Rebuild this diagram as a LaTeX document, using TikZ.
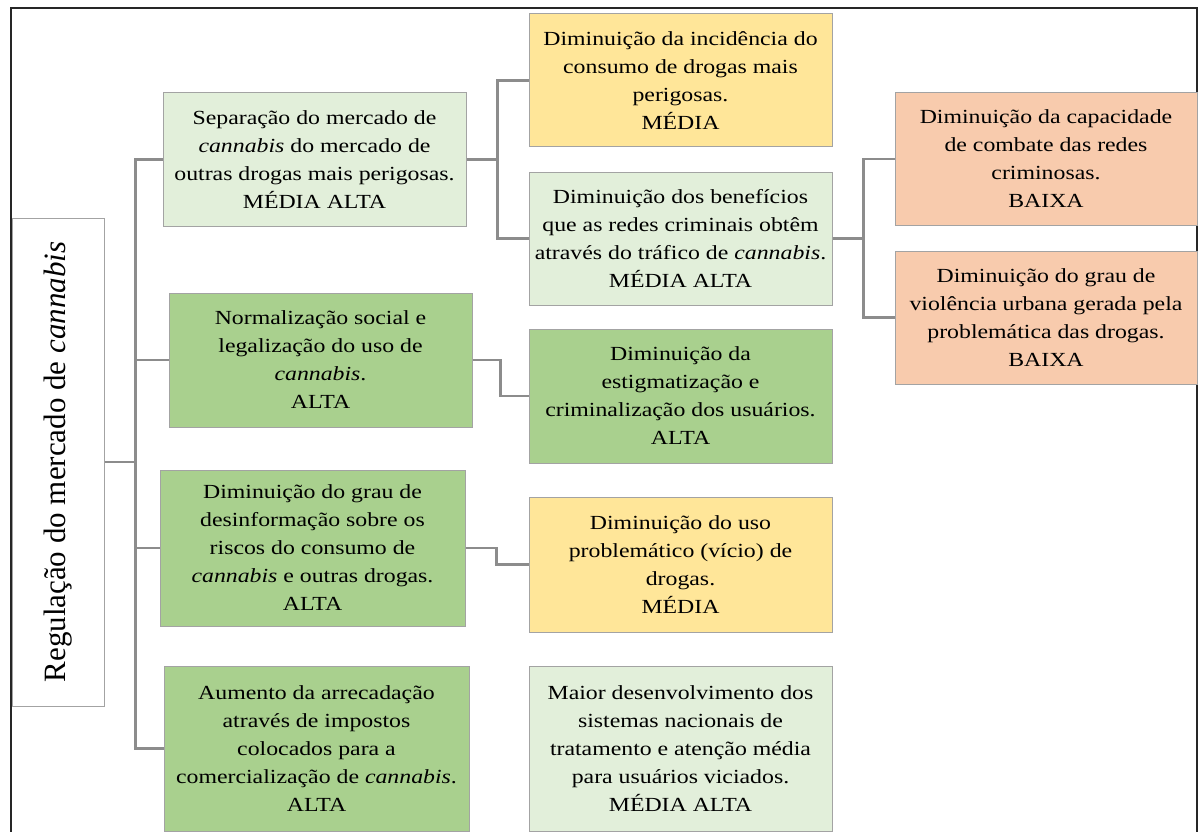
\documentclass[tikz,border=0pt]{standalone}
\usepackage{fontspec}
\usepackage{graphicx}
\setmainfont{Liberation Serif}
\newfontfamily\boxfont{Liberation Serif}[FakeStretch=1.19]
\definecolor{verdec}{HTML}{E2EFDA}
\definecolor{verdee}{HTML}{A9D08E}
\definecolor{amarelo}{HTML}{FFE699}
\definecolor{laranja}{HTML}{F8CBAD}
\definecolor{cinza}{HTML}{8C8C8C}
\begin{document}
\begin{tikzpicture}[
        x=1pt,
        y=-1pt,
        font=\boxfont\fontsize{20}{28}\selectfont
    ]
    \tikzset{
        mybox/.style = {rectangle, draw=cinza!80, line width=1pt, align=center,
                        inner sep=0pt, minimum width=303, minimum height=133},
        boxlg/.style = {mybox, fill=verdec},
        boxdg/.style = {mybox, fill=verdee},
        boxye/.style = {mybox, fill=amarelo},
        boxor/.style = {mybox, fill=laranja, minimum width=302},
        myedge/.style = {draw=cinza, line width=2.2pt},
    }
        \useasboundingbox (0,0) rectangle (1199,832);
        \draw[line width=1.4pt, black!85] (11,850) -- (11,8) -- (1197,8) -- (1197,850);
        %
        \node[mybox, fill=white, minimum width=92, minimum height=488,
              font=\rmfamily\fontsize{31}{36}\selectfont] at (58,462) (root)
              {\rotatebox{90}{Regulação do mercado de \textit{cannabis}}};
        %
        \node[boxlg] at (314.5,159.5) (sep) {Separação do mercado de\\ \textit{cannabis} do mercado de\\ outras drogas mais perigosas.\\ MÉDIA ALTA};
        \node[boxdg, minimum height=134] at (320.5,360) (norm) {Normalização social e\\ legalização do uso de\\ \textit{cannabis}.\\ ALTA};
        \node[boxdg, minimum width=305, minimum height=156] at (312.5,548) (desinf) {Diminuição do grau de\\ desinformação sobre os\\ riscos do consumo de\\ \textit{cannabis} e outras drogas.\\ ALTA};
        \node[boxdg, minimum width=305, minimum height=165] at (316.5,748.5) (aum) {Aumento da arrecadação\\ através de impostos\\ colocados para a\\ comercialização de \textit{cannabis}.\\ ALTA};
        %
        \node[boxye] at (680.5,80.5) (incid) {Diminuição da incidência do\\ consumo de drogas mais\\ perigosas.\\ MÉDIA};
        \node[boxlg] at (680.5,238.5) (benef) {Diminuição dos benefícios\\ que as redes criminais obtêm\\ através do tráfico de \textit{cannabis}.\\ MÉDIA ALTA};
        \node[boxdg, minimum height=134] at (680.5,396) (estig) {Diminuição da\\ estigmatização e\\ criminalização dos usuários.\\ ALTA};
        \node[boxye, minimum height=135] at (680.5,564.5) (uso) {Diminuição do uso\\ problemático (vício) de\\ drogas.\\ MÉDIA};
        \node[boxlg, minimum height=165] at (680.5,748.5) (maior) {Maior desenvolvimento dos\\ sistemas nacionais de\\ tratamento e atenção média\\ para usuários viciados.\\ MÉDIA ALTA};
        %
        \node[boxor, minimum height=132] at (1046,159) (cap) {Diminuição da capacidade\\ de combate das redes\\ criminosas.\\ BAIXA};
        \node[boxor] at (1046,317.5) (viol) {Diminuição do grau de\\ violência urbana gerada pela\\ problemática das drogas.\\ BAIXA};
        %
        \draw[myedge] (root.east) -- ++(31,0) |- (sep.west);
        \draw[myedge] (root.east) -- ++(31,0) |- (norm.west);
        \draw[myedge] (root.east) -- ++(31,0) |- (desinf.west);
        \draw[myedge] (root.east) -- ++(31,0) |- (aum.west);
        %
        \draw[myedge] (sep.east) -- ++(31,0) |- (incid.west);
        \draw[myedge] (sep.east) -- ++(31,0) |- (benef.west);
        \draw[myedge] (norm.east) -- ++(28,0) |- (estig.west);
        \draw[myedge] (desinf.east) -- ++(31,0) |- (uso.west);
        %
        \draw[myedge] (benef.east) -- ++(31,0) |- (cap.west);
        \draw[myedge] (benef.east) -- ++(31,0) |- (viol.west);
    \end{tikzpicture}
\end{document}
